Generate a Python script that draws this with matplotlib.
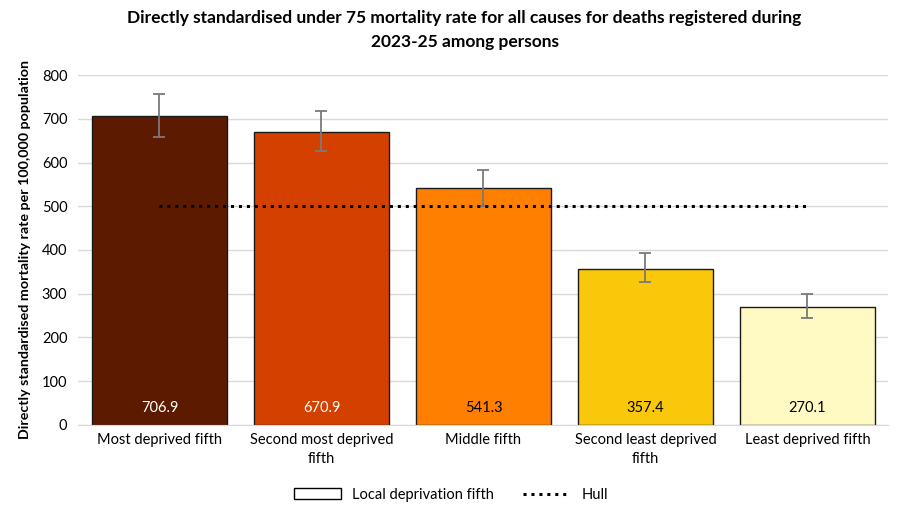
import matplotlib.pyplot as plt
import numpy as np
from matplotlib.patches import Patch

plt.rcParams['font.family'] = ['Lato', 'DejaVu Sans']

categories = ["Most deprived fifth", "Second most deprived\nfifth", "Middle fifth",
              "Second least deprived\nfifth", "Least deprived fifth"]
rates = [706.9, 670.9, 541.3, 357.4, 270.1]
lower_ci = [659, 627, 501, 327, 244]
upper_ci = [757, 718, 584, 392, 300]
hull = [500, 500, 500, 500, 500]
colors = ['#5C1A00', '#D44000', '#FF8000', '#F9C80A', '#FFF9C4']
label_colors = ['white', 'white', 'black', 'black', 'black']

x = np.arange(len(categories))
rates_arr = np.array(rates)
yerr = [rates_arr - np.array(lower_ci), np.array(upper_ci) - rates_arr]

fig = plt.figure(figsize=(9.02, 5.18), dpi=100)
ax = fig.add_axes([0.087, 0.18, 0.898, 0.675])

ax.bar(x, rates, width=0.83, color=colors, edgecolor='#1a1a1a', linewidth=1.0,
       zorder=2, label='Local deprivation fifth')
ax.errorbar(x, rates, yerr=yerr, fmt='none', ecolor='#7a7a7a', elinewidth=1.3,
            capsize=4, capthick=1.3, zorder=3)
ax.plot(x, hull, color='black', linestyle=(0, (1, 1.6)), linewidth=2.2,
        zorder=4, label='Hull')

for xi, v, c in zip(x, rates, label_colors):
    ax.text(xi, 38, f"{v:.1f}", ha='center', va='center', color=c, fontsize=10.5, zorder=5)

ax.set_xlim(-0.5, 4.5)
ax.set_ylim(0, 800)
ax.set_yticks(range(0, 801, 100))
ax.set_xticks(x)
ax.set_xticklabels(categories, fontsize=10.5, linespacing=1.45)
ax.tick_params(axis='y', labelsize=10.5, length=0, pad=8)
ax.tick_params(axis='x', length=0, pad=6)
ax.grid(axis='y', color='#d9d9d9', linewidth=1, zorder=0)
ax.set_axisbelow(True)
for s in ['top', 'right', 'left']:
    ax.spines[s].set_visible(False)
ax.spines['bottom'].set_color('#d9d9d9')

ax.set_ylabel("Directly standardised mortality rate per 100,000 population",
              fontsize=10.3, fontweight='bold', labelpad=8)
fig.suptitle("Directly standardised under 75 mortality rate for all causes for deaths registered during\n2023-25 among persons",
             fontsize=12.5, fontweight='bold', y=0.98, x=0.515, linespacing=1.6)

line_handle = ax.get_legend_handles_labels()[0][0]
bar_handle = Patch(facecolor='white', edgecolor='black', label='Local deprivation fifth')
fig.legend([bar_handle, line_handle], ['Local deprivation fifth', 'Hull'],
           loc='center', bbox_to_anchor=(0.5, 0.045), ncol=2, frameon=False,
           fontsize=10.5, handlelength=3.2, handleheight=0.7, columnspacing=2)

fig.savefig('out.png', dpi=100)
